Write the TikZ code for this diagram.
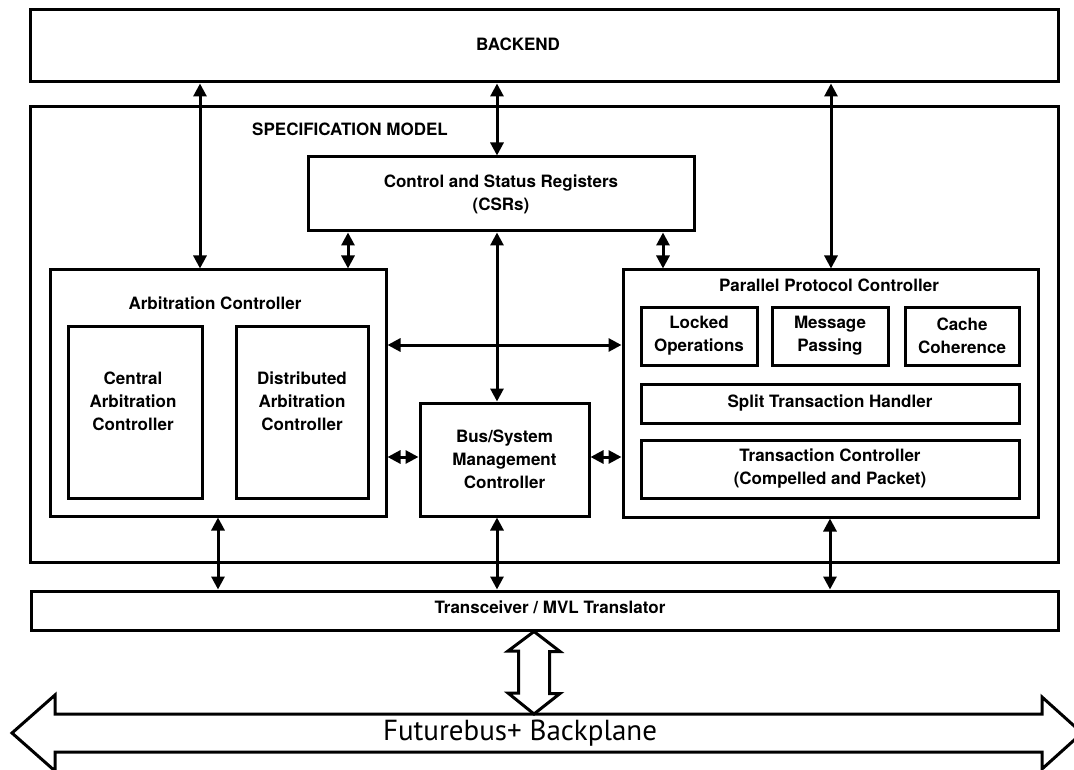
\documentclass[tikz,border=0pt]{standalone}
\usepackage{fontspec}
\setmainfont{TeX Gyre Heros}
\newfontfamily\bpfont{PT Sans}
\usetikzlibrary{arrows.meta}

\begin{document}
\begin{tikzpicture}[x=1pt,y=-1pt,
        blk/.style={draw, line width=3pt, align=center, inner sep=0pt,
            font=\bfseries\fontsize{17}{23}\selectfont},
        lbl/.style={align=center, inner sep=0pt,
            font=\bfseries\fontsize{17}{23}\selectfont},
        link/.style={line width=3pt,
            {Triangle[length=13pt,width=13pt]}-{Triangle[length=13pt,width=13pt]}},
        hollow/.style={line width=3pt, line join=miter}]

        \useasboundingbox (0,0) rectangle (1074,770);

        % outer blocks
        \node[blk, minimum width=1028, minimum height=72] (backend) at (544,46) {};
        \node[lbl] (backendtxt) at (518,44) {BACKEND};
        \node[blk, minimum width=1028, minimum height=455] (spec) at (544,334.5) {};
        \node[lbl] (spectxt) at (350,129) {SPECIFICATION MODEL};
        \node[blk, minimum width=386, minimum height=74] (csr) at (501,194) {Control and Status Registers\\(CSRs)};

        % arbitration
        \node[blk, minimum width=336, minimum height=246] (arb) at (218,393) {};
        \node[lbl] (arbtxt) at (215,303) {Arbitration Controller};
        \node[blk, minimum width=134, minimum height=172] (central) at (135,412) {};
        \node[lbl] (centraltxt) at (133,401) {Central\\Arbitration\\Controller};
        \node[blk, minimum width=132, minimum height=172] (distrib) at (302,412) {};
        \node[lbl] (distribtxt) at (302,401) {Distributed\\Arbitration\\Controller};

        \node[blk, minimum width=169, minimum height=113] (bus) at (504.5,459.5) {Bus/System\\Management\\Controller};

        % parallel protocol
        \node[blk, minimum width=415, minimum height=247] (ppc) at (830.5,393.5) {};
        \node[lbl] (ppctxt) at (829,285) {Parallel Protocol Controller};
        \node[blk, minimum width=116, minimum height=58] (locked) at (699,336) {Locked\\Operations};
        \node[blk, minimum width=116, minimum height=58] (message) at (830,336) {Message\\Passing};
        \node[blk, minimum width=114, minimum height=58] (cache) at (962,336) {Cache\\Coherence};
        \node[blk, minimum width=378, minimum height=39] (split) at (830,403.5) {Split Transaction Handler};
        \node[blk, minimum width=378, minimum height=58] (trans) at (830,469) {Transaction Controller\\(Compelled and Packet)};

        \node[blk, minimum width=1027, minimum height=39] (xcvr) at (544.5,610.5) {};
        \node[lbl] (xcvrtxt) at (550,607) {Transceiver / MVL Translator};

        % links
        \draw[link] (backend.south -| 200,0) -- (arb.north -| 200,0);
        \draw[link] (backend.south -| 497,0) -- (csr.north -| 497,0);
        \draw[link] (backend.south -| 831,0) -- (ppc.north -| 831,0);
        \draw[link] (csr.south -| 348,0) -- (arb.north -| 348,0);
        \draw[link] (csr.south -| 663,0) -- (ppc.north -| 663,0);
        \draw[link] (csr.south -| 497,0) -- (bus.north -| 497,0);
        \draw[link] (arb.east |- 0,345) -- (ppc.west |- 0,345);
        \draw[link] (arb.east |- 0,457) -- (bus.west |- 0,457);
        \draw[link] (bus.east |- 0,457) -- (ppc.west |- 0,457);
        \draw[link] (arb.south -| 218,0) -- (xcvr.north -| 218,0);
        \draw[link] (bus.south -| 497,0) -- (xcvr.north -| 497,0);
        \draw[link] (ppc.south -| 830,0) -- (xcvr.north -| 830,0);

        % backplane
        \draw[hollow] (12,733) -- (55,695) -- (55,714) -- (1042,714) -- (1042,697) -- (1082,733)
            -- (1042,769) -- (1042,752) -- (55,752) -- (55,771) -- cycle;
        \node[inner sep=0pt, font=\bpfont\fontsize{29}{34}\selectfont] (bptxt) at (520,733) {Futurebus+ Backplane};
        \coordinate (bptop) at (534,714);
        \draw[hollow] (xcvr.south -| bptop) -- ++(26,20) -- ++(-10.5,0) -- ++(0,42) -- ++(10.5,0)
            -- (bptop) -- ++(-26,-21) -- ++(10.5,0) -- ++(0,-42) -- ++(-10.5,0) -- cycle;
    \end{tikzpicture}
\end{document}
